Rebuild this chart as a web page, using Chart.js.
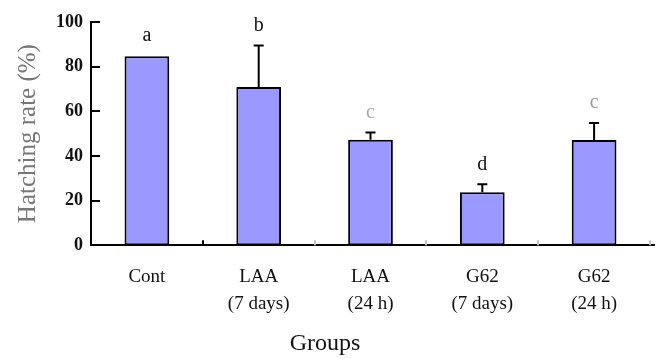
<!DOCTYPE html>
<html lang="en">
<head>
    <meta charset="UTF-8">
    <title>Hatching rate by group</title>
    <script src="https://cdn.jsdelivr.net/npm/chart.js"></script>
    <style>
        body {
            margin: 0;
            background: white;
        }
        .wrap {
            width: 660px;
            height: 358px;
        }
    </style>
</head>
<body>
    <div class="wrap">
        <canvas id="grafico"></canvas>
    </div>
    <script>
        // data
        const groups = ['Cont', ['LAA', '(7 days)'], ['LAA', '(24 h)'], ['G62', '(7 days)'], ['G62', '(24 h)']];
        const hatchRate = [84.7, 70.9, 47.2, 23.7, 47.1];
        const errUp = [0, 18.6, 3.3, 3.6, 7.6];
        const letters = ['a', 'b', 'c', 'd', 'c'];
        const yTicks = [0, 20, 40, 60, 80, 100];

        const serif = "'Liberation Serif', 'Times New Roman', serif";
        const letterColors = ['#111', '#111', '#aaa', '#111', '#999'];

        // error bars, significance letters and inward tick marks
        const extras = {
            id: 'extras',
            afterDraw(chart) {
                const ctx = chart.ctx;
                const x = chart.scales.x;
                const y = chart.scales.y;
                const area = chart.chartArea;
                ctx.save();
                ctx.strokeStyle = '#000';
                ctx.lineWidth = 2;

                // y ticks pointing into the plot
                yTicks.forEach(function (t) {
                    const py = Math.round(y.getPixelForValue(t));
                    ctx.beginPath();
                    ctx.moveTo(area.left, py);
                    ctx.lineTo(area.left + 9, py);
                    ctx.stroke();
                });

                // axis runs a little past the last group
                ctx.beginPath();
                ctx.moveTo(area.right - 2, Math.round(area.bottom));
                ctx.lineTo(area.right + 5, Math.round(area.bottom));
                ctx.stroke();

                // x ticks between the groups
                for (let i = 0; i < groups.length; i++) {
                    let px = i < groups.length - 1
                        ? (x.getPixelForValue(i) + x.getPixelForValue(i + 1)) / 2
                        : area.right;
                    ctx.strokeStyle = i === 0 ? '#000' : '#c4c4c4';
                    ctx.beginPath();
                    ctx.moveTo(Math.round(px), area.bottom);
                    ctx.lineTo(Math.round(px), area.bottom - 5);
                    ctx.stroke();
                }

                ctx.strokeStyle = '#000';
                ctx.font = '20px ' + serif;
                ctx.textAlign = 'center';
                ctx.textBaseline = 'middle';
                hatchRate.forEach(function (v, i) {
                    const px = x.getPixelForValue(i);
                    const top = y.getPixelForValue(v + errUp[i]);
                    if (errUp[i] > 0) {
                        ctx.beginPath();
                        ctx.moveTo(px, y.getPixelForValue(v));
                        ctx.lineTo(px, top);
                        ctx.moveTo(px - 5, top);
                        ctx.lineTo(px + 5, top);
                        ctx.stroke();
                    }
                    ctx.fillStyle = letterColors[i];
                    ctx.fillText(letters[i], px, top - 20);
                });
                ctx.restore();
            }
        };

        const ctx = document.getElementById('grafico').getContext('2d');
        new Chart(ctx, {
            type: 'bar',
            data: {
                labels: groups,
                datasets: [{
                    data: hatchRate,
                    backgroundColor: '#9999ff',
                    borderColor: '#000',
                    borderWidth: 2,
                    borderSkipped: false,
                    barPercentage: 0.4,
                    categoryPercentage: 1
                }]
            },
            options: {
                responsive: true,
                maintainAspectRatio: false,
                animation: false,
                layout: {
                    padding: { top: 22, right: 10, bottom: 0, left: 0 }
                },
                plugins: {
                    legend: { display: false },
                    tooltip: { enabled: false },
                    title: {
                        display: true,
                        text: 'Groups',
                        position: 'bottom',
                        color: '#111',
                        font: { family: serif, size: 24, weight: 'normal' },
                        padding: { top: 0, bottom: 0 }
                    }
                },
                scales: {
                    x: {
                        grid: { display: false },
                        border: { display: true, color: '#000', width: 2 },
                        ticks: {
                            color: '#111',
                            padding: 11,
                            maxRotation: 0,
                            font: { family: serif, size: 19, lineHeight: 1.4 }
                        },
                        afterFit: function (scale) { scale.height = 84; }
                    },
                    y: {
                        min: 0,
                        max: 100,
                        afterBuildTicks: function (scale) {
                            scale.ticks = yTicks.map(function (v) { return { value: v }; });
                        },
                        grid: { display: false },
                        border: { display: true, color: '#000', width: 2 },
                        ticks: {
                            color: '#111',
                            padding: 0,
                            font: { family: serif, size: 18, weight: 'bold' }
                        },
                        title: {
                            display: true,
                            text: 'Hatching rate (%)',
                            color: '#777',
                            font: { family: serif, size: 25 },
                            padding: { top: 13, bottom: 0 }
                        },
                        afterFit: function (scale) { scale.width = 91; }
                    }
                }
            },
            plugins: [extras]
        });
    </script>
</body>
</html>
